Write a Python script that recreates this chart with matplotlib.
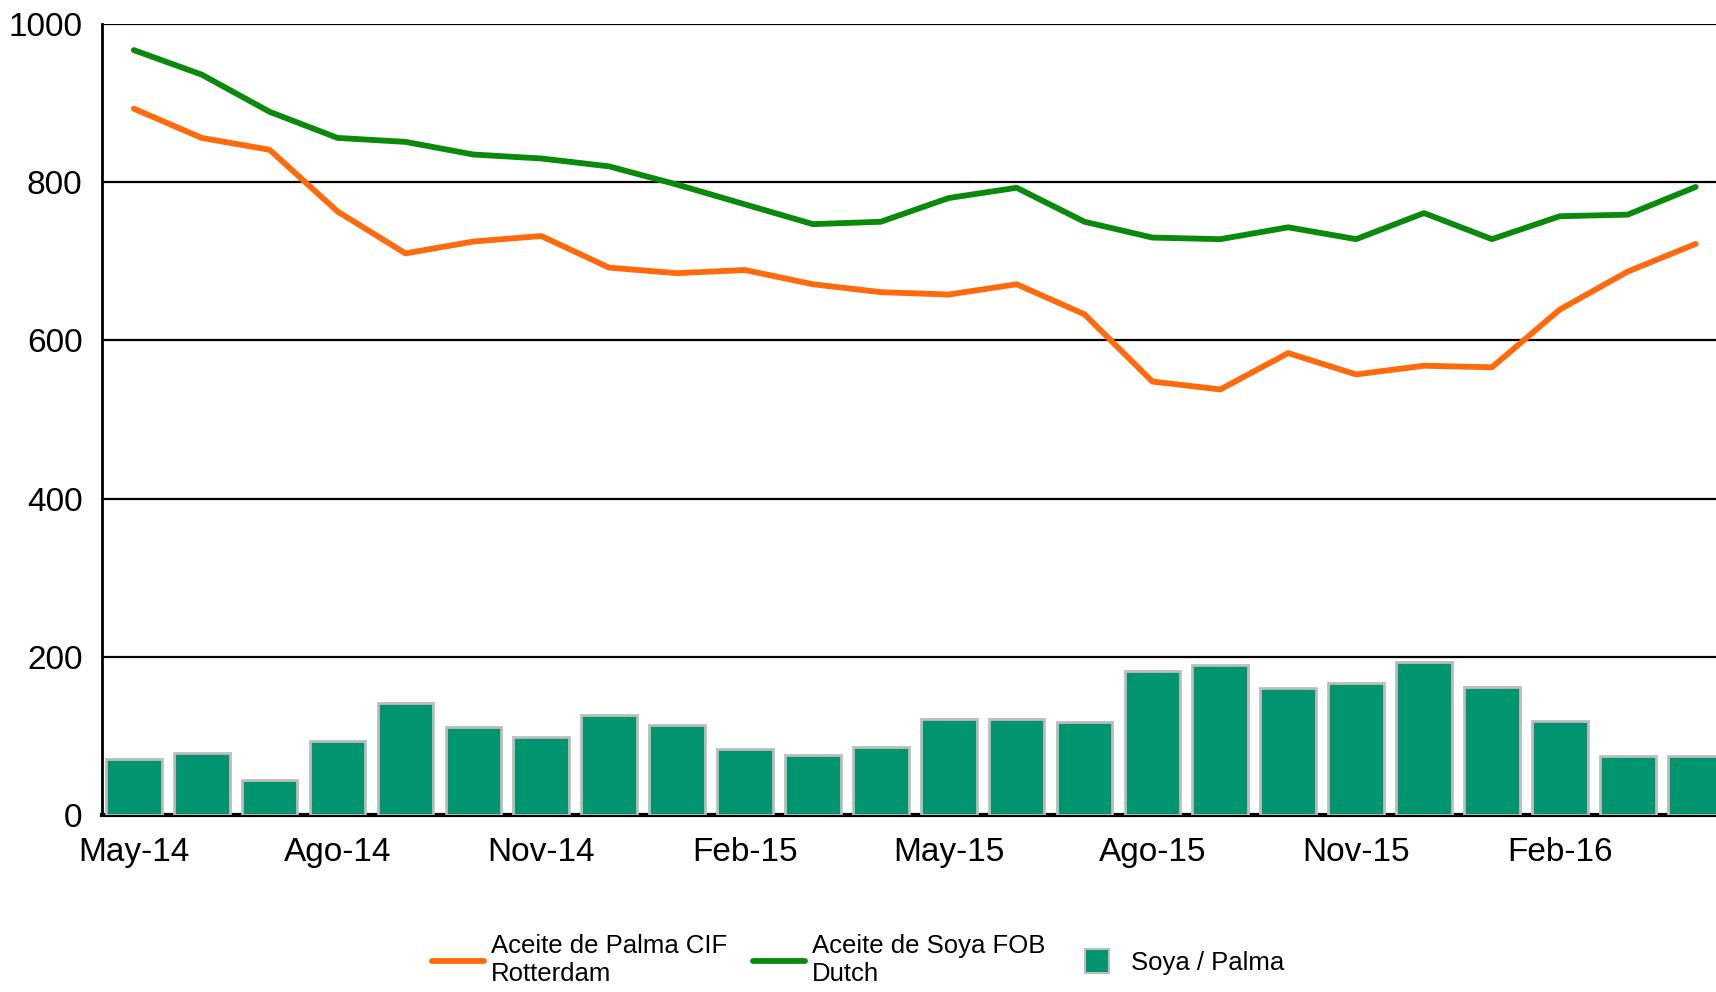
import numpy as np
import matplotlib
matplotlib.use("Agg")
import matplotlib.pyplot as plt
from matplotlib.lines import Line2D

plt.rcParams['font.family'] = ['Liberation Sans', 'DejaVu Sans']

meses = ["May-14", "Jun-14", "Jul-14", "Ago-14", "Sep-14", "Oct-14", "Nov-14", "Dic-14",
         "Ene-15", "Feb-15", "Mar-15", "Abr-15", "May-15", "Jun-15", "Jul-15", "Ago-15",
         "Sep-15", "Oct-15", "Nov-15", "Dic-15", "Ene-16", "Feb-16", "Mar-16", "Abr-16"]
palma = [893, 856, 841, 763, 710, 725, 732, 692, 685, 689, 671, 661,
         658, 671, 633, 548, 538, 584, 557, 568, 566, 639, 687, 722]
soya = [967, 936, 889, 856, 851, 835, 830, 820, 797, 772, 747, 750,
        780, 793, 750, 730, 728, 743, 728, 761, 728, 757, 759, 794]
soya_palma = [71, 78, 44, 93, 142, 111, 99, 126, 114, 83, 76, 86,
              121, 121, 117, 182, 190, 160, 167, 193, 162, 119, 74, 74]

verde_barra = "#00956F"
naranja = "#FF6A0D"
verde = "#0A8A0A"

fig = plt.figure(figsize=(17.16, 9.92), dpi=100)
ax = fig.add_axes([0.0594, 0.1784, 0.9406, 0.7974])

x = np.arange(len(meses))
ax.bar(x, soya_palma, width=0.82, color=verde_barra, edgecolor="#BDBDBD", linewidth=2, zorder=3)
l1, = ax.plot(x, palma, color=naranja, linewidth=4.2, zorder=4, solid_capstyle="round")
l2, = ax.plot(x, soya, color=verde, linewidth=4.2, zorder=4, solid_capstyle="round")

ax.set_xlim(-0.47, 23.3)
ax.set_ylim(0, 1000)
ax.set_yticks([0, 200, 400, 600, 800, 1000])
ax.set_xticks(x[::3])
ax.set_xticklabels(meses[::3])
ax.tick_params(axis="both", length=0, labelsize=24)
ax.tick_params(axis="x", pad=16)
ax.tick_params(axis="y", pad=14)

for y in [200, 400, 600, 800, 1000]:
    ax.axhline(y, color="black", linewidth=1.6, zorder=1)

ax.spines["right"].set_visible(False)
ax.spines["top"].set_visible(False)
ax.spines["left"].set_linewidth(2)
ax.spines["bottom"].set_linewidth(3)
ax.spines["bottom"].set_zorder(2)

cuadro = Line2D([], [], marker="s", markersize=17, markerfacecolor=verde_barra,
                markeredgecolor="#BDBDBD", markeredgewidth=1.5, linestyle="None")
h1 = Line2D([], [], color=naranja, linewidth=4.2, solid_capstyle="round")
h2 = Line2D([], [], color=verde, linewidth=4.2, solid_capstyle="round")
fig.legend([h1, h2, cuadro],
           ["Aceite de Palma CIF\nRotterdam", "Aceite de Soya FOB\nDutch", "Soya / Palma"],
           loc="center", bbox_to_anchor=(0.5, 0.032), ncol=3, frameon=False, fontsize=18.5,
           handlelength=2.0, handletextpad=0.3, columnspacing=1.0)

fig.savefig("out.png", dpi=100)
